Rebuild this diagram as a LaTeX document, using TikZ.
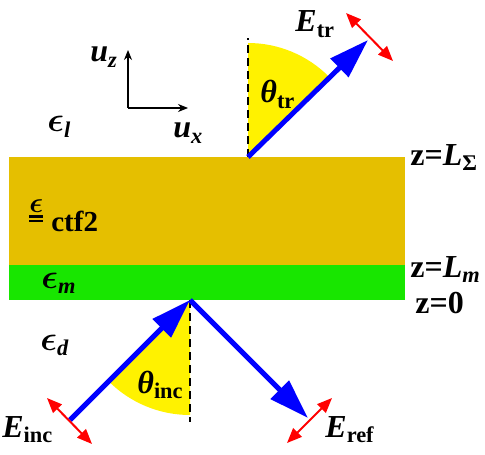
\documentclass[tikz,border=0pt]{standalone}
\usepackage{fontspec}
\setmainfont{Liberation Serif}
\usepackage{amsmath}
\usepackage{bm}
\usetikzlibrary{arrows.meta}

\definecolor{film}{RGB}{229,191,0}
\definecolor{metal}{RGB}{24,230,0}

\newcommand{\bfit}[1]{\textbf{\textit{#1}}}
\newcommand{\epsb}{$\bm{\epsilon}$}
\newcommand{\tensoreps}{\raisebox{9.5pt}{\vtop{\hbox{\fontsize{14}{16}\selectfont$\bm{\epsilon}$}
  \kern1.6pt\hrule height1.2pt\kern1pt\hrule height1.2pt}}}

\begin{document}
\begin{tikzpicture}[
  x=0.5pt, y=-0.5pt,
  every node/.style={inner sep=0pt, font=\fontsize{16}{19}\selectfont\bfseries},
  tag/.style={anchor=base west},
  beam/.style={blue, line width=2.5pt, -{Triangle[length=20pt, width=12.5pt]}},
  field/.style={red, line width=1pt, {Triangle[length=7.5pt, width=6pt]}-{Triangle[length=7.5pt, width=6pt]}},
  normal/.style={line width=0.8pt, dash pattern=on 4pt off 2.5pt},
  axis/.style={line width=0.6pt, -{Stealth[length=5pt, width=4pt]}}
]
\useasboundingbox (0,0) rectangle (485,454);

% layers
\fill[film] (9,157) rectangle (405,265);
\fill[metal] (9,265) rectangle (405,300);

% beam points
\coordinate (top) at (248,157);
\coordinate (hit) at (190,300);
\coordinate (trEnd) at (368,40);
\coordinate (incStart) at (70,420);
\coordinate (refEnd) at (308,418);
\coordinate (topN) at (248,38);
\coordinate (botN) at (190,422);

% angles
\fill[yellow] (top) -- ++(0,-114) arc[start angle=90, end angle=45, radius=57pt] -- cycle;
\fill[yellow] (hit) -- ++(0,115) arc[start angle=270, end angle=225, radius=57.5pt] -- cycle;
\draw[normal] (top) -- (topN);
\draw[normal] (hit) -- (botN);

% beams
\draw[beam] (top) -- (trEnd);
\draw[beam] (incStart) -- (hit);
\draw[beam] (hit) -- (refEnd);

% polarisation
\coordinate (trA) at (346,13);
\coordinate (trB) at (393,61);
\coordinate (incA) at (47,398);
\coordinate (incB) at (92,444);
\coordinate (refA) at (287,443);
\coordinate (refB) at (332,398);
\draw[field] (trA) -- (trB);
\draw[field] (incA) -- (incB);
\draw[field] (refA) -- (refB);

% axes
\coordinate (o) at (128,108);
\coordinate (uzEnd) at (128,50);
\coordinate (uxEnd) at (188,108);
\draw[axis] (o) -- (uzEnd);
\draw[axis] (o) -- (uxEnd);

% labels
\node[tag] (uz) at (90,62) {\bfit{u}\textsubscript{\textit{z}}};
\node[tag] (ux) at (173,138) {\bfit{u}\textsubscript{\textit{x}}};
\node[tag] (Etr) at (295,32) {\bfit{E}\textsubscript{tr}};
\node[tag] (thtr) at (260,103) {\bfit{θ}\textsubscript{tr}};
\node[tag] (thinc) at (137,393) {\bfit{θ}\textsubscript{inc}};
\node[tag] (Einc) at (2,437) {\bfit{E}\textsubscript{inc}};
\node[tag] (Eref) at (325,437) {\bfit{E}\textsubscript{ref}};
\node[tag] (epsl) at (47,132) {\epsb\textsubscript{\textit{l}}};
\node[tag] (epsf) at (29,231) {\tensoreps\hspace{4pt}\fontsize{14.5}{17}\selectfont ctf2};
\node[tag] (epsm) at (41,288) {\epsb\textsubscript{\textit{m}}};
\node[tag] (epsd) at (40,350) {\epsb\textsubscript{\textit{d}}};
\node[tag] (zsum) at (410,165) {z=\bfit{L}\textsubscript{Σ}};
\node[tag] (zm) at (410,277) {z=\bfit{L}\textsubscript{\textit{m}}};
\node[tag] (z0) at (415,313) {z=0};
\end{tikzpicture}
\end{document}
